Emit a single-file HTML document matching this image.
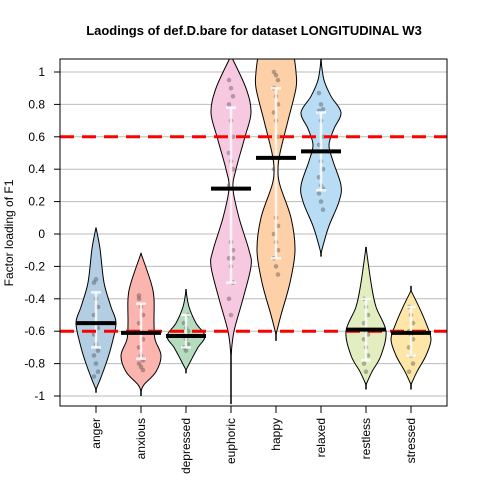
<!DOCTYPE html>
<html><head><meta charset="utf-8"><style>
body{margin:0;background:#fff}
svg text{font-family:"Liberation Sans",sans-serif}
</style></head><body>
<svg id="c" width="480" height="480" xmlns="http://www.w3.org/2000/svg"></svg>
<script>
const categories=["anger","anxious","depressed","euphoric","happy","relaxed","restless","stressed"];
const colors=["#b3cde3","#fbb4ae","#b5dcbf","#f7c9e0","#fdd0a8","#b9dcf5","#e3eec0","#fde6a8"];
const means=[-0.55,-0.61,-0.63,0.28,0.47,0.51,-0.59,-0.61];
const iqrTop=[-0.36,-0.43,-0.5,0.78,0.9,0.75,-0.4,-0.45];
const iqrBot=[-0.70,-0.77,-0.7,-0.3,-0.15,0.27,-0.78,-0.75];
const lineTop=[0.02,-0.12,-0.34,1.1,1.1,1.1,-0.08,-0.32];
const lineBot=[-0.98,-1.0,-0.86,-1.05,-0.66,-0.14,-0.96,-0.96];
// density profiles: [value, relative density 0..1]
const profiles=[
 [[0.04,0],[-0.09,0.2],[-0.3,0.4],[-0.45,0.75],[-0.55,1],[-0.7,0.75],[-0.8,0.5],[-0.9,0.2],[-0.96,0]],
 [[-0.12,0],[-0.3,0.5],[-0.4,0.65],[-0.55,0.65],[-0.65,0.7],[-0.75,1],[-0.85,0.75],[-0.93,0.15],[-0.97,0]],
 [[-0.35,0],[-0.45,0.15],[-0.55,0.5],[-0.63,0.95],[-0.7,0.6],[-0.78,0.25],[-0.84,0]],
 [[1.1,0],[0.9,0.75],[0.75,1],[0.6,0.7],[0.4,0.25],[0.28,0.1],[0.1,0.4],[-0.1,0.9],[-0.2,1],[-0.4,0.6],[-0.6,0.15],[-0.75,0]],
 [[1.1,0.9],[1.0,1],[0.9,1],[0.7,0.6],[0.5,0.2],[0.4,0.1],[0.3,0.2],[0.1,0.75],[-0.1,0.95],[-0.3,0.7],[-0.5,0.25],[-0.62,0]],
 [[1.07,0],[0.95,0.15],[0.85,0.5],[0.75,1],[0.65,0.65],[0.55,0.4],[0.45,0.6],[0.3,1],[0.2,0.9],[0.05,0.4],[-0.05,0.15],[-0.12,0]],
 [[-0.08,0],[-0.3,0.25],[-0.45,0.5],[-0.6,1],[-0.75,0.75],[-0.85,0.3],[-0.93,0]],
 [[-0.35,0],[-0.45,0.4],[-0.55,0.75],[-0.65,1],[-0.75,0.75],[-0.85,0.3],[-0.93,0]]
];
// observed points per category (approximate)
const points=[
 [-0.3,-0.4,-0.45,-0.5,-0.55,-0.58,-0.62,-0.68,-0.72,-0.75,-0.8,-0.85,-0.88,-0.28],
 [-0.4,-0.45,-0.5,-0.55,-0.6,-0.65,-0.7,-0.75,-0.78,-0.8,-0.82,-0.84,-0.38],
 [-0.55,-0.58,-0.6,-0.63,-0.65,-0.68,-0.7,-0.72,-0.5],
 [0.95,0.9,0.85,0.8,0.7,0.6,0.5,0.45,0.4,0.3,-0.05,-0.1,-0.15,-0.2,-0.3,-0.4,-0.5,-0.15],
 [1.0,0.98,0.95,0.9,0.85,0.8,0.75,0.7,0.6,0.4,0.1,0.05,0.0,-0.05,-0.1,-0.15,-0.2,-0.25],
 [0.87,0.8,0.77,0.76,0.7,0.6,0.55,0.45,0.4,0.35,0.3,0.28,0.25,0.2,0.15],
 [-0.4,-0.45,-0.5,-0.55,-0.6,-0.62,-0.65,-0.7,-0.75,-0.8,-0.85],
 [-0.45,-0.5,-0.55,-0.6,-0.62,-0.65,-0.7,-0.75,-0.8,-0.85]
];
const yTicks=[-1,-0.8,-0.6,-0.4,-0.2,0,0.2,0.4,0.6,0.8,1];
const refLines=[0.6,-0.6];
const L=60,R=447,T=59,B=406;
const y=v=>234-v*162;
const x=i=>96+45*i;
const W=20;
const svg=document.getElementById('c');
const NS="http://www.w3.org/2000/svg";
function mk(t,a,p){const e=document.createElementNS(NS,t);for(const k in a)e.setAttribute(k,a[k]);(p||svg).appendChild(e);return e;}
function spline(pts){let d='';for(let i=0;i<pts.length-1;i++){const p0=pts[Math.max(0,i-1)],p1=pts[i],p2=pts[i+1],p3=pts[Math.min(pts.length-1,i+2)];
 const c1=[p1[0]+(p2[0]-p0[0])/6,p1[1]+(p2[1]-p0[1])/6],c2=[p2[0]-(p3[0]-p1[0])/6,p2[1]-(p3[1]-p1[1])/6];
 d+=` C${c1[0]},${c1[1]} ${c2[0]},${c2[1]} ${p2[0]},${p2[1]}`;}return d;}
const defs=mk('defs',{});const cp=mk('clipPath',{id:'pc'},defs);mk('rect',{x:L,y:T,width:R-L,height:B-T},cp);
const g=mk('g',{'clip-path':'url(#pc)'});
yTicks.forEach(v=>{const l=mk('line',{x1:L,x2:R,y1:y(v),y2:y(v),stroke:'#bbb','stroke-width':1},g);

});
categories.forEach((c,i)=>{
 const cx=x(i);const p=profiles[i];
 const vl=mk('line',{x1:cx,x2:cx,y1:y(lineTop[i]),y2:y(lineBot[i]),stroke:'#000','stroke-width':1.5},g);
 
 
 const rs=p.map(q=>[cx+q[1]*W,y(q[0])]);
 const ls=p.slice().reverse().map(q=>[cx-q[1]*W,y(q[0])]);
 const d='M'+rs[0][0]+','+rs[0][1]+spline(rs)+' L'+ls[0][0]+','+ls[0][1]+spline(ls)+'Z';
 const pa=mk('path',{d:d,fill:colors[i],stroke:'#000','stroke-width':1},g);
 
 
 points[i].forEach((v,k)=>{const dt=mk('circle',{cx:cx+((k%3)-1)*2,cy:y(v),r:2.3,fill:'#333','fill-opacity':0.35},g);
 
 });
 const w=mk('line',{x1:cx,x2:cx,y1:y(iqrTop[i]),y2:y(iqrBot[i]),stroke:'#fff','stroke-width':2.5,opacity:0.8},g);
 
 
 [iqrTop[i],iqrBot[i]].forEach(v=>{const cap=mk('line',{x1:cx-5,x2:cx+5,y1:y(v),y2:y(v),stroke:'#fff','stroke-width':2.5,opacity:0.8},g);
 
 });
});
refLines.forEach(v=>{const l=mk('line',{x1:L,x2:R,y1:y(v),y2:y(v),stroke:'#f00','stroke-width':3,'stroke-dasharray':'14,8'},g);

});
categories.forEach((c,i)=>{const m=mk('line',{x1:x(i)-20,x2:x(i)+20,y1:y(means[i]),y2:y(means[i]),stroke:'#000','stroke-width':4},g);


const t=mk('line',{x1:x(i),x2:x(i),y1:B,y2:B+7,stroke:'#000'});


const lb=mk('text',{x:0,y:0,transform:`translate(${x(i)+4},${B+12}) rotate(-90)`,'text-anchor':'end','font-size':12});
lb.textContent=c;

});
yTicks.forEach(v=>{const t=mk('line',{x1:L-6,x2:L,y1:y(v),y2:y(v),stroke:'#000'});


const lb=mk('text',{x:L-15,y:y(v)+4,'text-anchor':'end','font-size':12});
lb.textContent=(Math.round(v*10)/10).toString();

});
const box=mk('rect',{x:L,y:T,width:R-L,height:B-T,fill:'none',stroke:'#000','stroke-width':1});


const ti=mk('text',{x:254,y:35,'text-anchor':'middle','font-size':13,'font-weight':'bold'});
ti.textContent='Laodings of def.D.bare for dataset LONGITUDINAL W3';


const yl=mk('text',{x:0,y:0,transform:'translate(13,233) rotate(-90)','text-anchor':'middle','font-size':12});
yl.textContent='Factor loading of F1';


</script>
</body></html>
